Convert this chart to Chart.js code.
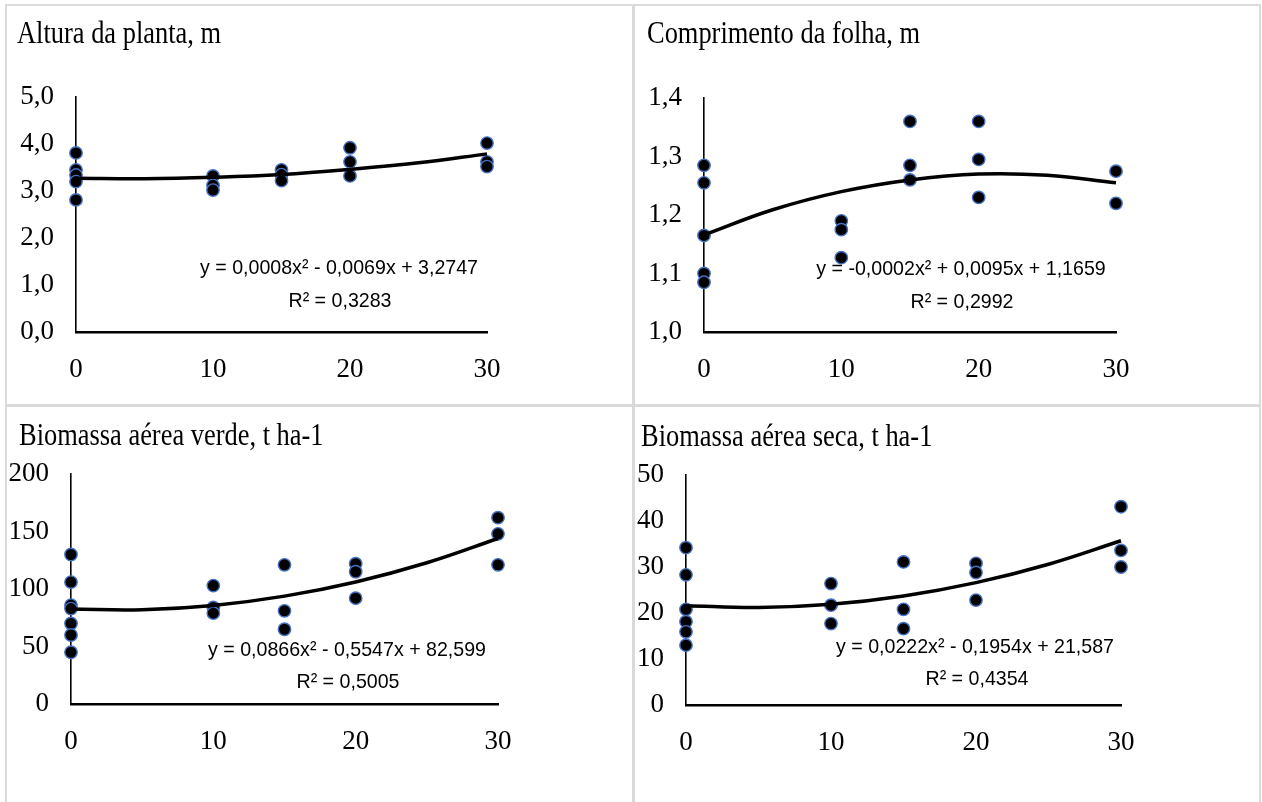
<!DOCTYPE html>
<html>
<head>
<meta charset="utf-8">
<script src="https://cdn.jsdelivr.net/npm/chart.js@4.4.1/dist/chart.umd.min.js"></script>
<style>
  html, body { margin: 0; padding: 0; background: #fff; }
  #page { position: relative; width: 1262px; height: 802px; overflow: hidden; }
  canvas { position: absolute; }
  .rule { position: absolute; background: #dadada; }
  .title { position: absolute; font-family: "Liberation Serif", "Times New Roman", serif; font-size: 32px; line-height: 32px; color: #000; white-space: nowrap; transform: scaleX(0.826); transform-origin: 0 0; }
  .eq { position: absolute; font-family: "Liberation Sans", Arial, sans-serif; font-size: 21px; line-height: 21px; color: #000; white-space: nowrap; transform: translateX(-50%) scaleX(0.934); }
</style>
</head>
<body>
<div id="page">
  <div class="rule" style="left:5px; top:4px; width:1256px; height:2px;"></div>
  <div class="rule" style="left:5px; top:4px; width:2px; height:798px;"></div>
  <div class="rule" style="left:632px; top:4px; width:3px; height:798px;"></div>
  <div class="rule" style="left:1259px; top:4px; width:2px; height:798px;"></div>
  <div class="rule" style="left:5px; top:404px; width:1256px; height:3px;"></div>

  <canvas id="c1" width="631" height="401" style="left:0; top:0;"></canvas>
  <canvas id="c2" width="631" height="401" style="left:631px; top:0;"></canvas>
  <canvas id="c3" width="631" height="401" style="left:0; top:401px;"></canvas>
  <canvas id="c4" width="631" height="401" style="left:631px; top:401px;"></canvas>

  <div class="title" style="left:17px; top:16px;">Altura da planta, m</div>
  <div class="title" style="left:647px; top:16px;">Comprimento da folha, m</div>
  <div class="title" style="left:19px; top:418px;">Biomassa aérea verde, t ha-1</div>
  <div class="title" style="left:641px; top:419px;">Biomassa aérea seca, t ha-1</div>

  <div class="eq" style="left:339px; top:256px;">y = 0,0008x² - 0,0069x + 3,2747</div>
  <div class="eq" style="left:340px; top:289px;">R² = 0,3283</div>
  <div class="eq" style="left:961px; top:257px;">y = -0,0002x² + 0,0095x + 1,1659</div>
  <div class="eq" style="left:962px; top:290px;">R² = 0,2992</div>
  <div class="eq" style="left:347px; top:638px;">y = 0,0866x² - 0,5547x + 82,599</div>
  <div class="eq" style="left:348px; top:670px;">R² = 0,5005</div>
  <div class="eq" style="left:975px; top:635px;">y = 0,0222x² - 0,1954x + 21,587</div>
  <div class="eq" style="left:977px; top:667px;">R² = 0,4354</div>
</div>

<script>
// valores
const alturaX = [0, 0, 0, 0, 0, 10, 10, 10, 15, 15, 15, 20, 20, 20, 30, 30, 30];
const alturaY = [3.81, 3.45, 3.34, 3.2, 2.81, 3.32, 3.12, 3.02, 3.45, 3.35, 3.22, 3.92, 3.62, 3.32, 4.02, 3.62, 3.52];

const folhaX = [0, 0, 0, 0, 0, 10, 10, 10, 15, 15, 15, 20, 20, 20, 30, 30];
const folhaY = [1.285, 1.255, 1.165, 1.1, 1.085, 1.19, 1.175, 1.127, 1.36, 1.285, 1.26, 1.36, 1.295, 1.23, 1.275, 1.22];

const verdeX = [0, 0, 0, 0, 0, 0, 0, 10, 10, 10, 15, 15, 15, 20, 20, 20, 30, 30, 30];
const verdeY = [130, 106, 86, 83, 70, 60, 45, 103, 84, 79, 121, 81, 65, 122, 115, 92, 162, 148, 121];

const secaX = [0, 0, 0, 0, 0, 0, 10, 10, 10, 15, 15, 15, 20, 20, 20, 30, 30, 30];
const secaY = [34.2, 28.3, 20.8, 18.1, 15.9, 13.0, 26.4, 21.7, 17.7, 31.1, 20.8, 16.6, 30.8, 28.8, 22.8, 43.1, 33.6, 30.0];

// linha de tendência (polinomial), lida em x = 0, 5, ..., 30
const trendX = [0, 5, 10, 15, 20, 25, 30];
const alturaTrend = [3.27, 3.26, 3.29, 3.35, 3.46, 3.6, 3.79];
const folhaTrend = [1.166, 1.209, 1.24, 1.26, 1.27, 1.268, 1.255];
const verdeTrend = [82.6, 82.0, 85.7, 93.8, 106.1, 122.8, 143.9];
const secaTrend = [21.6, 21.2, 21.9, 23.7, 26.6, 30.6, 35.7];

const xTicks = [0, 10, 20, 30];

function pairs(xs, ys) {
    return xs.map((x, i) => ({ x: x, y: ys[i] }));
}

function makePanel(id, xs, ys, trend, yMin, yMax, yStep, decimals, box) {
    const ctx = document.getElementById(id);
    return new Chart(ctx, {
        type: 'scatter',
        data: {
            datasets: [
                {
                    data: pairs(trendX, trend),
                    showLine: true,
                    borderColor: '#000',
                    borderWidth: 3.5,
                    pointRadius: 0,
                    tension: 0.4,
                    fill: false,
                    clip: false
                },
                {
                    data: pairs(xs, ys),
                    pointRadius: 6.2,
                    pointBackgroundColor: '#000',
                    pointBorderColor: '#4472C4',
                    pointBorderWidth: 1.4,
                    clip: false
                }
            ]
        },
        options: {
            responsive: false,
            animation: false,
            layout: {
                padding: { left: 0, top: box.top, right: box.right, bottom: 0 }
            },
            plugins: {
                legend: { display: false },
                tooltip: { enabled: false }
            },
            scales: {
                x: {
                    type: 'linear',
                    min: 0,
                    max: 30,
                    afterBuildTicks: (scale) => {
                        scale.ticks = xTicks.map(v => ({ value: v }));
                    },
                    afterFit: (scale) => { scale.height = box.xh; },
                    grid: { display: false, drawTicks: false },
                    border: { display: true, color: '#000', width: 2.4 },
                    ticks: {
                        padding: 22,
                        color: '#000',
                        maxRotation: 0,
                        font: { family: 'Liberation Serif', size: 27 }
                    }
                },
                y: {
                    min: yMin,
                    max: yMax,
                    afterFit: (scale) => { scale.width = box.yw; },
                    grid: { display: false, drawTicks: false },
                    border: { display: true, color: '#000', width: 1.6 },
                    ticks: {
                        stepSize: yStep,
                        padding: 22,
                        color: '#000',
                        font: { family: 'Liberation Serif', size: 27 },
                        callback: (v) => Number(v).toFixed(decimals).replace('.', ',')
                    }
                }
            }
        }
    });
}

makePanel('c1', alturaX, alturaY, alturaTrend, 0, 5, 1, 1, { top: 97, right: 144, xh: 69, yw: 76 });
makePanel('c2', folhaX, folhaY, folhaTrend, 1.0, 1.4, 0.1, 1, { top: 98, right: 146, xh: 69, yw: 73 });
makePanel('c3', verdeX, verdeY, verdeTrend, 0, 200, 50, 0, { top: 73, right: 133, xh: 98, yw: 71 });
makePanel('c4', secaX, secaY, secaTrend, 0, 50, 10, 0, { top: 74, right: 141, xh: 97, yw: 55 });
</script>
</body>
</html>
